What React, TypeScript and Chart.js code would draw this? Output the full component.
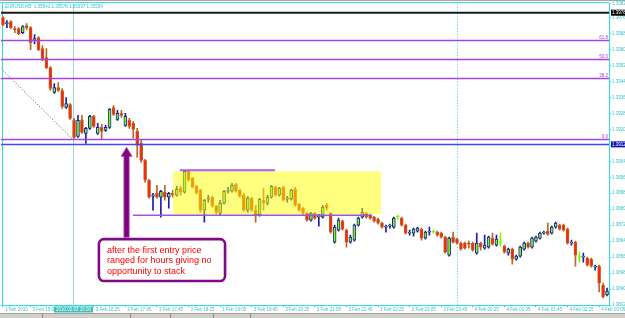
import React, { useEffect, useRef } from 'react';
import { Chart, registerables } from 'chart.js';

Chart.register(...registerables);

// ---------------- data (EURUSD M5, 3-4 Feb 2010) ----------------
const opens = [
  1.39760, 1.39730, 1.39740, 1.39705, 1.39705, 1.39685, 1.39720, 1.39710, 1.39645, 1.39660,
  1.39605, 1.39560, 1.39510, 1.39385, 1.39410, 1.39395, 1.39310, 1.39325, 1.39245, 1.39165,
  1.39245, 1.39180, 1.39205, 1.39265, 1.39180, 1.39210, 1.39195, 1.39210, 1.39310, 1.39250,
  1.39280, 1.39220, 1.39245, 1.39230, 1.39190, 1.39130, 1.39045, 1.38945, 1.38865, 1.38880,
  1.38860, 1.38885, 1.38860, 1.38880, 1.38870, 1.38905, 1.38885, 1.38990, 1.38955, 1.38915,
  1.38895, 1.38795, 1.38850, 1.38860, 1.38815, 1.38780, 1.38830, 1.38890, 1.38890, 1.38925,
  1.38895, 1.38870, 1.38795, 1.38855, 1.38795, 1.38770, 1.38845, 1.38830, 1.38860, 1.38910,
  1.38870, 1.38910, 1.38850, 1.38850, 1.38900, 1.38825, 1.38805, 1.38780, 1.38745, 1.38780,
  1.38760, 1.38760, 1.38820, 1.38780, 1.38635, 1.38695, 1.38740, 1.38695, 1.38635, 1.38645,
  1.38720, 1.38760, 1.38780, 1.38770, 1.38760, 1.38750, 1.38730, 1.38710, 1.38715, 1.38710,
  1.38760, 1.38755, 1.38720, 1.38680, 1.38680, 1.38690, 1.38700, 1.38655, 1.38685, 1.38685,
  1.38685, 1.38680, 1.38660, 1.38570, 1.38660, 1.38650, 1.38630, 1.38630, 1.38630, 1.38630,
  1.38580, 1.38630, 1.38605, 1.38610, 1.38655, 1.38620, 1.38630, 1.38615, 1.38580, 1.38600,
  1.38550, 1.38565, 1.38600, 1.38630, 1.38610, 1.38640, 1.38655, 1.38680, 1.38690, 1.38680,
  1.38710, 1.38720, 1.38720, 1.38700, 1.38630, 1.38635, 1.38560, 1.38560, 1.38555, 1.38550,
  1.38510, 1.38515, 1.38420, 1.38370,
];
const highs = [
  1.39765, 1.39745, 1.39745, 1.39715, 1.39710, 1.39720, 1.39730, 1.39715, 1.39675, 1.39665,
  1.39620, 1.39605, 1.39515, 1.39430, 1.39435, 1.39405, 1.39360, 1.39330, 1.39255, 1.39270,
  1.39270, 1.39210, 1.39270, 1.39270, 1.39230, 1.39225, 1.39220, 1.39305, 1.39320, 1.39295,
  1.39295, 1.39280, 1.39255, 1.39240, 1.39205, 1.39145, 1.39050, 1.38950, 1.38880, 1.38920,
  1.38895, 1.38920, 1.38885, 1.38895, 1.38915, 1.38915, 1.38995, 1.38995, 1.38960, 1.38920,
  1.38900, 1.38850, 1.38870, 1.38865, 1.38820, 1.38845, 1.38895, 1.38910, 1.38930, 1.38930,
  1.38900, 1.38880, 1.38865, 1.38860, 1.38820, 1.38855, 1.38905, 1.38870, 1.38920, 1.38915,
  1.38910, 1.38915, 1.38865, 1.38900, 1.38910, 1.38830, 1.38810, 1.38785, 1.38785, 1.38785,
  1.38775, 1.38820, 1.38830, 1.38785, 1.38720, 1.38755, 1.38745, 1.38700, 1.38670, 1.38725,
  1.38760, 1.38805, 1.38785, 1.38775, 1.38765, 1.38755, 1.38735, 1.38720, 1.38725, 1.38760,
  1.38770, 1.38760, 1.38725, 1.38695, 1.38705, 1.38710, 1.38705, 1.38690, 1.38710, 1.38695,
  1.38690, 1.38685, 1.38665, 1.38660, 1.38685, 1.38655, 1.38635, 1.38635, 1.38640, 1.38635,
  1.38680, 1.38635, 1.38670, 1.38665, 1.38680, 1.38670, 1.38680, 1.38620, 1.38605, 1.38605,
  1.38570, 1.38615, 1.38635, 1.38635, 1.38660, 1.38665, 1.38685, 1.38690, 1.38730, 1.38715,
  1.38735, 1.38725, 1.38725, 1.38705, 1.38645, 1.38640, 1.38585, 1.38580, 1.38560, 1.38555,
  1.38520, 1.38520, 1.38430, 1.38405,
];
const lows = [
  1.39720, 1.39710, 1.39705, 1.39685, 1.39675, 1.39680, 1.39700, 1.39600, 1.39630, 1.39595,
  1.39545, 1.39505, 1.39395, 1.39380, 1.39390, 1.39305, 1.39305, 1.39250, 1.39155, 1.39160,
  1.39180, 1.39130, 1.39200, 1.39210, 1.39175, 1.39150, 1.39190, 1.39205, 1.39270, 1.39245,
  1.39260, 1.39215, 1.39205, 1.39155, 1.39060, 1.39035, 1.38935, 1.38855, 1.38795, 1.38855,
  1.38760, 1.38845, 1.38805, 1.38860, 1.38865, 1.38870, 1.38880, 1.38940, 1.38905, 1.38875,
  1.38785, 1.38735, 1.38835, 1.38810, 1.38775, 1.38770, 1.38825, 1.38880, 1.38885, 1.38885,
  1.38860, 1.38790, 1.38785, 1.38790, 1.38735, 1.38765, 1.38795, 1.38820, 1.38855, 1.38865,
  1.38865, 1.38840, 1.38835, 1.38845, 1.38815, 1.38790, 1.38770, 1.38740, 1.38740, 1.38750,
  1.38715, 1.38755, 1.38795, 1.38680, 1.38630, 1.38690, 1.38695, 1.38610, 1.38630, 1.38640,
  1.38715, 1.38755, 1.38755, 1.38750, 1.38735, 1.38725, 1.38705, 1.38685, 1.38705, 1.38705,
  1.38750, 1.38715, 1.38675, 1.38670, 1.38665, 1.38685, 1.38645, 1.38650, 1.38670, 1.38680,
  1.38665, 1.38655, 1.38580, 1.38565, 1.38630, 1.38625, 1.38595, 1.38600, 1.38605, 1.38590,
  1.38575, 1.38595, 1.38600, 1.38605, 1.38620, 1.38615, 1.38615, 1.38580, 1.38570, 1.38525,
  1.38545, 1.38560, 1.38595, 1.38605, 1.38605, 1.38635, 1.38650, 1.38675, 1.38670, 1.38675,
  1.38705, 1.38695, 1.38690, 1.38625, 1.38620, 1.38515, 1.38535, 1.38535, 1.38515, 1.38510,
  1.38495, 1.38385, 1.38355, 1.38365,
];
const closes = [
  1.39725, 1.39735, 1.39710, 1.39700, 1.39680, 1.39715, 1.39710, 1.39635, 1.39655, 1.39600,
  1.39555, 1.39510, 1.39405, 1.39410, 1.39395, 1.39315, 1.39330, 1.39255, 1.39160, 1.39245,
  1.39185, 1.39205, 1.39265, 1.39215, 1.39210, 1.39190, 1.39210, 1.39300, 1.39275, 1.39280,
  1.39270, 1.39265, 1.39215, 1.39200, 1.39120, 1.39045, 1.38945, 1.38860, 1.38870, 1.38860,
  1.38890, 1.38860, 1.38880, 1.38870, 1.38900, 1.38885, 1.38990, 1.38945, 1.38910, 1.38880,
  1.38795, 1.38845, 1.38855, 1.38815, 1.38785, 1.38830, 1.38890, 1.38895, 1.38920, 1.38890,
  1.38865, 1.38795, 1.38855, 1.38795, 1.38770, 1.38850, 1.38830, 1.38860, 1.38915, 1.38870,
  1.38905, 1.38845, 1.38855, 1.38895, 1.38820, 1.38795, 1.38780, 1.38745, 1.38780, 1.38755,
  1.38765, 1.38810, 1.38805, 1.38685, 1.38710, 1.38745, 1.38700, 1.38635, 1.38660, 1.38720,
  1.38755, 1.38785, 1.38760, 1.38755, 1.38740, 1.38730, 1.38710, 1.38715, 1.38720, 1.38755,
  1.38760, 1.38720, 1.38680, 1.38685, 1.38700, 1.38705, 1.38655, 1.38685, 1.38690, 1.38685,
  1.38670, 1.38660, 1.38585, 1.38655, 1.38635, 1.38630, 1.38600, 1.38605, 1.38625, 1.38595,
  1.38630, 1.38610, 1.38620, 1.38660, 1.38625, 1.38650, 1.38630, 1.38585, 1.38600, 1.38550,
  1.38565, 1.38610, 1.38630, 1.38610, 1.38655, 1.38660, 1.38680, 1.38685, 1.38675, 1.38710,
  1.38730, 1.38700, 1.38695, 1.38630, 1.38635, 1.38570, 1.38560, 1.38565, 1.38520, 1.38515,
  1.38515, 1.38430, 1.38360, 1.38390,
];

// time axis tick labels and the bars they sit on
const timeTickLabels = [
  '3 Feb 2010', '3 Feb 15:05', '3 Feb 15:45', '3 Feb 16:25', '3 Feb 17:05', '3 Feb 17:45',
  '3 Feb 18:25', '3 Feb 19:05', '3 Feb 19:45', '3 Feb 20:25', '3 Feb 21:05', '3 Feb 21:45',
  '3 Feb 22:25', '3 Feb 23:05', '3 Feb 23:45', '4 Feb 00:25', '4 Feb 01:05', '4 Feb 01:45',
  '4 Feb 02:25', '4 Feb 03:05',
];
const timeTickBars = [0, 7, 15, 23, 31, 39, 47, 55, 63, 71, 79, 87, 95, 103, 111, 119, 127, 135, 143, 151];

// price axis
const priceMin = 1.3832;
const priceMax = 1.3983;
const priceStep = 0.0008;

// chart objects
const chartTitle = 'EURUSD,M5  1.35541 1.35578 1.35537 1.35554';
const crosshairBar = 17.75;
const crosshairLabel = '2010.02.03 16:00';
const daySeparatorBar = 114.9;

const fibLow = 1.3915;
const fibHigh = 1.3996;
const fibLevels = [0, 38.2, 50, 61.8];
const fibAnchorBars = [-23.8, 17.7];

const blueLevel = 1.39125;
const blackLevel = 1.39785;

const rangeBoxBars = [43.1, 95.75];
const rangeBoxPrices = [1.3899, 1.38775];
const rangeTopLineBars = [44.8, 68.9];
const rangeTopLinePrice = 1.38995;
const rangeBottomLineBars = [32.9, 93.5];
const rangeBottomLinePrice = 1.3877;

const arrowBar = 31.3;
const arrowTipPrice = 1.3911;
const arrowHeadBasePrice = 1.39065;
const arrowTailPrice = 1.3866;

const calloutBars = [24.3, 56.25];
const calloutPrices = [1.3865, 1.3844];
const calloutLines = ['after the first entry price', 'ranged for hours giving no', 'opportunity to stack'];

// ---------------- styles ----------------
const FONT = '"Liberation Sans", Arial, sans-serif';
const BULL_FILL = '#7CFC00';
const BULL_LINE = '#1E1EA6';
const BEAR_FILL = '#FF2400';
const BEAR_LINE = '#B8652E';
const DOJI = '#7CFC00';
const AXIS_CYAN = '#2EDDE8';
const TEXT_TEAL = '#34C4C4';
const FIB = '#A444E0';

const categories = opens.map((_, i) => {
  const k = timeTickBars.indexOf(i);
  return k >= 0 ? timeTickLabels[k] : '';
});

const isDoji = (i: number) => opens[i] === closes[i];
const isBull = (i: number) => closes[i] > opens[i];
const lineColors = opens.map((_, i) => (isDoji(i) ? DOJI : isBull(i) ? BULL_LINE : BEAR_LINE));
const bodyColors = opens.map((_, i) => (isDoji(i) ? DOJI : isBull(i) ? BULL_FILL : BEAR_FILL));
const bodyData = opens.map((o, i) => [Math.min(o, closes[i]), Math.max(o, closes[i])]);
const wickData = lows.map((l, i) => [l, highs[i]]);

const overlayPlugin = {
  id: 'mtOverlay',
  beforeDatasetsDraw(chart: any) {
    const { ctx, chartArea: a } = chart;
    const xs = chart.scales.x;
    const ys = chart.scales.y;
    ctx.save();
    // frame: top and left cyan lines
    ctx.strokeStyle = AXIS_CYAN;
    ctx.lineWidth = 1;
    ctx.beginPath();
    ctx.moveTo(0, 2.5);
    ctx.lineTo(a.right, 2.5);
    ctx.moveTo(2.5, 2);
    ctx.lineTo(2.5, a.bottom);
    ctx.stroke();

    ctx.beginPath();
    ctx.rect(a.left, a.top, a.right - a.left, a.bottom - a.top);
    ctx.clip();
    // fib trend line (dotted)
    ctx.strokeStyle = '#4A4A4A';
    ctx.setLineDash([1, 2]);
    ctx.beginPath();
    ctx.moveTo(xs.getPixelForValue(fibAnchorBars[0]), ys.getPixelForValue(fibHigh));
    ctx.lineTo(xs.getPixelForValue(fibAnchorBars[1]), ys.getPixelForValue(fibLow));
    ctx.stroke();
    // day separator
    ctx.strokeStyle = '#22D2E2';
    const sx = Math.round(xs.getPixelForValue(daySeparatorBar)) + 0.5;
    ctx.beginPath();
    ctx.moveTo(sx, a.top);
    ctx.lineTo(sx, a.bottom);
    ctx.stroke();
    // crosshair vertical
    ctx.setLineDash([]);
    ctx.strokeStyle = '#8EDCDC';
    const cx = Math.round(xs.getPixelForValue(crosshairBar)) + 0.5;
    ctx.beginPath();
    ctx.moveTo(cx, a.top);
    ctx.lineTo(cx, a.bottom);
    ctx.stroke();
    ctx.restore();
  },
  afterDatasetsDraw(chart: any) {
    const { ctx, chartArea: a } = chart;
    const xs = chart.scales.x;
    const ys = chart.scales.y;
    ctx.save();
    ctx.beginPath();
    ctx.rect(a.left, a.top, a.right - a.left, a.bottom - a.top);
    ctx.clip();

    // range rectangle (semi transparent yellow)
    const bx1 = xs.getPixelForValue(rangeBoxBars[0]);
    const bx2 = xs.getPixelForValue(rangeBoxBars[1]);
    const by1 = ys.getPixelForValue(rangeBoxPrices[0]);
    const by2 = ys.getPixelForValue(rangeBoxPrices[1]);
    ctx.fillStyle = 'rgba(255,255,0,0.5)';
    ctx.fillRect(bx1, by1, bx2 - bx1, by2 - by1);

    // range lines
    ctx.lineWidth = 2;
    ctx.strokeStyle = '#B45CEA';
    let yy = ys.getPixelForValue(rangeTopLinePrice);
    ctx.beginPath();
    ctx.moveTo(xs.getPixelForValue(rangeTopLineBars[0]), yy);
    ctx.lineTo(xs.getPixelForValue(rangeTopLineBars[1]), yy);
    ctx.stroke();
    ctx.lineWidth = 1.5;
    ctx.strokeStyle = '#A452D8';
    yy = ys.getPixelForValue(rangeBottomLinePrice);
    ctx.beginPath();
    ctx.moveTo(xs.getPixelForValue(rangeBottomLineBars[0]), yy);
    ctx.lineTo(xs.getPixelForValue(rangeBottomLineBars[1]), yy);
    ctx.stroke();

    // fibonacci levels
    ctx.font = `4.5px ${FONT}`;
    ctx.textAlign = 'right';
    ctx.textBaseline = 'alphabetic';
    fibLevels.forEach((lvl) => {
      const p = fibLow + ((fibHigh - fibLow) * lvl) / 100;
      const y = Math.round(ys.getPixelForValue(p)) + 0.5;
      ctx.strokeStyle = FIB;
      ctx.lineWidth = 1.4;
      ctx.beginPath();
      ctx.moveTo(a.left, y);
      ctx.lineTo(a.right, y);
      ctx.stroke();
      ctx.fillStyle = FIB;
      ctx.fillText(lvl.toFixed(1), a.right - 1, y - 1.5);
    });

    // blue level
    let ly = Math.round(ys.getPixelForValue(blueLevel)) + 0.5;
    ctx.strokeStyle = '#4646FF';
    ctx.lineWidth = 1.4;
    ctx.beginPath();
    ctx.moveTo(a.left, ly);
    ctx.lineTo(a.right, ly);
    ctx.stroke();

    // black level
    ly = ys.getPixelForValue(blackLevel);
    ctx.strokeStyle = '#1A1A1A';
    ctx.lineWidth = 2;
    ctx.beginPath();
    ctx.moveTo(a.left, ly);
    ctx.lineTo(a.right, ly);
    ctx.stroke();
    ctx.restore();

    // title
    ctx.save();
    ctx.font = `4.5px ${FONT}`;
    ctx.fillStyle = TEXT_TEAL;
    ctx.textAlign = 'left';
    ctx.textBaseline = 'alphabetic';
    ctx.fillText(chartTitle, a.left + 4, 8);
    ctx.restore();

    // arrow
    ctx.save();
    const ax = xs.getPixelForValue(arrowBar);
    const tipY = ys.getPixelForValue(arrowTipPrice);
    const baseY = ys.getPixelForValue(arrowHeadBasePrice);
    const tailY = ys.getPixelForValue(arrowTailPrice);
    ctx.fillStyle = '#800080';
    ctx.strokeStyle = '#A24AA8';
    ctx.lineWidth = 0.8;
    ctx.beginPath();
    ctx.moveTo(ax, tipY);
    ctx.lineTo(ax + 5.5, baseY);
    ctx.lineTo(ax + 2.6, baseY);
    ctx.lineTo(ax + 2.6, tailY);
    ctx.lineTo(ax - 2.6, tailY);
    ctx.lineTo(ax - 2.6, baseY);
    ctx.lineTo(ax - 5.5, baseY);
    ctx.closePath();
    ctx.fill();
    ctx.stroke();
    ctx.restore();

    // callout
    ctx.save();
    const cx1 = xs.getPixelForValue(calloutBars[0]);
    const cx2 = xs.getPixelForValue(calloutBars[1]);
    const cy1 = ys.getPixelForValue(calloutPrices[0]);
    const cy2 = ys.getPixelForValue(calloutPrices[1]);
    ctx.beginPath();
    (ctx as any).roundRect(cx1, cy1, cx2 - cx1, cy2 - cy1, 5);
    ctx.fillStyle = '#FFFFFF';
    ctx.fill();
    ctx.lineWidth = 2.6;
    ctx.strokeStyle = '#7E0A88';
    ctx.stroke();
    ctx.fillStyle = '#FF0000';
    ctx.font = `9px ${FONT}`;
    ctx.textAlign = 'left';
    ctx.textBaseline = 'alphabetic';
    calloutLines.forEach((t, i) => {
      ctx.fillText(t, cx1 + 8, cy1 + 14 + i * 10.3);
    });
    ctx.restore();
  },
  afterDraw(chart: any) {
    const { ctx, chartArea: a, width, height } = chart;
    const xs = chart.scales.x;
    const ys = chart.scales.y;
    ctx.save();
    // window chrome
    ctx.fillStyle = '#A8A8A8';
    ctx.fillRect(0, 0, width, 1);
    ctx.fillStyle = '#D4D0C8';
    ctx.fillRect(0, height - 4, width, 4);
    ctx.fillStyle = '#A0A0A0';
    ctx.fillRect(0, height - 5, width, 1);
    ctx.fillStyle = '#808080';
    [42, 130, 170, 213, 250].forEach((px) => ctx.fillRect(px, height - 4, 1, 4));

    ctx.font = `4.5px ${FONT}`;
    ctx.textBaseline = 'middle';
    ctx.textAlign = 'left';
    // black level box on price axis
    let y = ys.getPixelForValue(blackLevel);
    ctx.fillStyle = '#000000';
    ctx.fillRect(a.right + 2, y - 3, 20, 6);
    ctx.fillStyle = '#FFFFFF';
    ctx.fillText(blackLevel.toFixed(5), a.right + 3, y + 0.3);
    // blue level box
    y = ys.getPixelForValue(blueLevel);
    ctx.fillStyle = '#1010B8';
    ctx.fillRect(a.right + 2, y - 3, 20, 6);
    ctx.fillStyle = '#FFFFFF';
    ctx.fillText(blueLevel.toFixed(5), a.right + 3, y + 0.3);

    // crosshair date box on time axis
    const cx = Math.round(xs.getPixelForValue(crosshairBar)) + 0.5;
    ctx.fillStyle = '#3EBEBE';
    ctx.fillRect(cx - 19.5, a.bottom + 1.5, 39, 6);
    ctx.fillStyle = '#FFFFFF';
    ctx.textAlign = 'center';
    ctx.fillText(crosshairLabel, cx, a.bottom + 4.7);
    ctx.restore();
  },
};

export default function App() {
  const canvasRef = useRef<HTMLCanvasElement | null>(null);

  useEffect(() => {
    if (!canvasRef.current) return;
    const chart = new Chart(canvasRef.current, {
      type: 'bar',
      data: {
        labels: categories,
        datasets: [
          {
            label: 'body',
            data: bodyData as any,
            backgroundColor: bodyColors,
            borderColor: lineColors,
            borderWidth: 1,
            borderSkipped: false,
            barThickness: 3,
            minBarLength: 1,
            grouped: false,
            order: 0,
          } as any,
          {
            label: 'wick',
            data: wickData as any,
            backgroundColor: lineColors,
            borderWidth: 0,
            barThickness: 1,
            grouped: false,
            order: 1,
          } as any,
        ],
      },
      options: {
        animation: false,
        responsive: false,
        devicePixelRatio: 1,
        events: [],
        layout: { padding: { left: 1, top: 3, right: 0, bottom: 0 } },
        plugins: { legend: { display: false }, tooltip: { enabled: false } },
        scales: {
          x: {
            type: 'category',
            offset: true,
            afterFit: (s: any) => {
              s.height = 13;
            },
            grid: {
              display: true,
              offset: false,
              drawOnChartArea: false,
              drawTicks: true,
              tickLength: 2,
              color: (c: any) => (categories[c.index] ? TEXT_TEAL : 'rgba(0,0,0,0)'),
            },
            border: { display: true, color: AXIS_CYAN, width: 1 },
            ticks: {
              autoSkip: false,
              maxRotation: 0,
              minRotation: 0,
              align: 'start',
              labelOffset: 2,
              padding: 0,
              color: TEXT_TEAL,
              font: { family: FONT, size: 4.5 },
            },
          },
          y: {
            type: 'linear',
            position: 'right',
            min: priceMin,
            max: priceMax,
            bounds: 'data',
            afterFit: (s: any) => {
              s.width = 16;
            },
            grid: {
              display: true,
              drawOnChartArea: false,
              drawTicks: true,
              tickLength: 2,
              color: AXIS_CYAN,
            },
            border: { display: true, color: AXIS_CYAN, width: 1 },
            ticks: {
              stepSize: priceStep,
              maxTicksLimit: 100,
              includeBounds: false,
              padding: 1,
              color: TEXT_TEAL,
              font: { family: FONT, size: 4.5 },
              callback: (v: any) => Number(v).toFixed(5),
            },
          },
        },
      },
      plugins: [overlayPlugin as any],
    } as any);
    return () => chart.destroy();
  }, []);

  return (
    <div style={{ position: 'fixed', left: 0, top: 0, width: 625, height: 318, background: '#FFFFFF' }}>
      <canvas ref={canvasRef} width={625} height={318} style={{ display: 'block', width: 625, height: 318 }} />
    </div>
  );
}
